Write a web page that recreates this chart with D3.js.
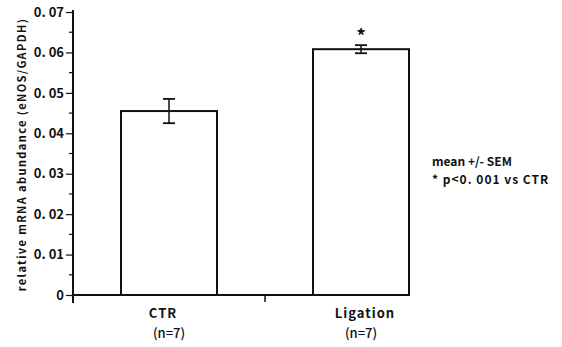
<!DOCTYPE html>
<html>
<head>
<meta charset="utf-8" />
<script src="https://cdn.jsdelivr.net/npm/d3@7"></script>
<style>
  body { margin: 0; background: #fff; }
  text { font-family: "Noto Sans CJK JP", "DejaVu Sans", sans-serif; fill: #111; }
</style>
</head>
<body>
<script>
  "use strict";

  var groups = ["CTR", "Ligation"];
  var nLabels = ["(n=7)", "(n=7)"];
  var means = [0.0455, 0.0608];
  var sems = [0.003, 0.001];
  var stars = ["", "*"];
  var yTicks = [0, 0.01, 0.02, 0.03, 0.04, 0.05, 0.06, 0.07];
  var yTickLabels = ["0", "0. 01", "0. 02", "0. 03", "0. 04", "0. 05", "0. 06", "0. 07"];
  var legendLines = ["mean +/- SEM", "* p<0. 001 vs CTR"];

  var width = 562, height = 347;
  var x0 = 73, x1 = 457, yBase = 295, yTop = 12;

  var svg = d3.select("body").append("svg")
    .attr("width", width)
    .attr("height", height);

  var x = d3.scaleBand().domain(groups).range([x0, x1]).paddingInner(0).paddingOuter(0);
  var y = d3.scaleLinear().domain([0, 0.07]).range([yBase, yTop]);
  var barW = 96;

  // y axis
  var yAxis = d3.axisLeft(y)
    .tickValues(yTicks)
    .tickSize(7)
    .tickFormat(function(d, i) { return yTickLabels[i]; });
  var gy = svg.append("g").attr("transform", "translate(" + x0 + ",0)").call(yAxis);
  gy.select(".domain").remove();
  gy.selectAll(".tick line").attr("stroke", "#111").attr("stroke-width", 1.2);
  gy.selectAll(".tick text")
    .attr("x", -9)
    .style("font-size", "13px")
    .style("font-weight", "bold")
    .style("font-family", "\"Noto Sans CJK JP\", sans-serif");

  // minor ticks
  var minor = d3.range(0, 7).map(function(i) { return (i + 0.5) / 100; });
  svg.selectAll("line.minor").data(minor).enter().append("line")
    .attr("class", "minor")
    .attr("x1", x0 - 4).attr("x2", x0)
    .attr("y1", function(d) { return y(d); })
    .attr("y2", function(d) { return y(d); })
    .attr("stroke", "#111").attr("stroke-width", 1.2);

  svg.append("line")
    .attr("x1", x0).attr("x2", x0)
    .attr("y1", yTop - 2).attr("y2", yBase + 8)
    .attr("stroke", "#111").attr("stroke-width", 2);

  // bars
  svg.selectAll("rect.bar").data(groups).enter().append("rect")
    .attr("class", "bar")
    .attr("x", function(d) { return x(d) + (x.bandwidth() - barW) / 2; })
    .attr("width", barW)
    .attr("y", function(d, i) { return y(means[i]); })
    .attr("height", function(d, i) { return yBase - y(means[i]); })
    .attr("fill", "#fff")
    .attr("stroke", "#111")
    .attr("stroke-width", 2);

  // x axis baseline
  svg.append("line")
    .attr("x1", x0).attr("x2", x("Ligation") + (x.bandwidth() + barW) / 2)
    .attr("y1", yBase).attr("y2", yBase)
    .attr("stroke", "#111").attr("stroke-width", 2);
  svg.append("line")
    .attr("x1", x("Ligation")).attr("x2", x("Ligation"))
    .attr("y1", yBase).attr("y2", yBase + 7)
    .attr("stroke", "#111").attr("stroke-width", 1.5);

  // error bars
  var eb = svg.selectAll("g.err").data(groups).enter().append("g")
    .attr("class", "err")
    .attr("transform", function(d) { return "translate(" + (x(d) + x.bandwidth() / 2) + ",0)"; });
  eb.append("line")
    .attr("y1", function(d, i) { return y(means[i] + sems[i]); })
    .attr("y2", function(d, i) { return y(means[i] - sems[i]); })
    .attr("stroke", "#111").attr("stroke-width", 1.5);
  eb.append("line")
    .attr("x1", -6).attr("x2", 6)
    .attr("y1", function(d, i) { return y(means[i] + sems[i]); })
    .attr("y2", function(d, i) { return y(means[i] + sems[i]); })
    .attr("stroke", "#111").attr("stroke-width", 1.8);
  eb.append("line")
    .attr("x1", -6).attr("x2", 6)
    .attr("y1", function(d, i) { return y(means[i] - sems[i]); })
    .attr("y2", function(d, i) { return y(means[i] - sems[i]); })
    .attr("stroke", "#111").attr("stroke-width", 1.8);
  eb.append("text")
    .attr("text-anchor", "middle")
    .attr("y", function(d, i) { return y(means[i] + sems[i]) - 2; })
    .style("font-size", "18px")
    .style("font-weight", "bold")
    .text(function(d, i) { return stars[i]; });

  // category labels
  var gl = svg.selectAll("g.cat").data(groups).enter().append("g")
    .attr("class", "cat")
    .attr("transform", function(d) { return "translate(" + (x(d) + x.bandwidth() / 2) + ",0)"; });
  gl.append("text")
    .attr("text-anchor", "middle")
    .attr("x", function(d, i) { return i === 0 ? -6 : 4; })
    .attr("y", 318)
    .style("font-size", "13px")
    .style("font-weight", "bold")
    .style("letter-spacing", "1px")
    .text(function(d) { return d; });
  gl.append("text")
    .attr("text-anchor", "middle")
    .attr("y", 338)
    .style("font-size", "13px")
    .style("font-weight", "500")
    .text(function(d, i) { return nLabels[i]; });

  // y label
  svg.append("text")
    .attr("transform", "translate(26," + ((yTop + yBase) / 2 + 1) + ") rotate(-90)")
    .attr("text-anchor", "middle")
    .style("font-size", "11px")
    .style("font-weight", "bold")
    .style("letter-spacing", "1.4px")
    .text("relative mRNA abundance (eNOS/GAPDH)");

  // legend
  svg.selectAll("text.leg").data(legendLines).enter().append("text")
    .attr("class", "leg")
    .attr("x", 432)
    .attr("y", function(d, i) { return 166 + i * 18; })
    .style("font-size", "12px")
    .style("font-weight", "bold")
    .style("letter-spacing", function(d, i) { return i === 0 ? "0px" : "1px"; })
    .text(function(d) { return d; });
</script>
</body>
</html>
